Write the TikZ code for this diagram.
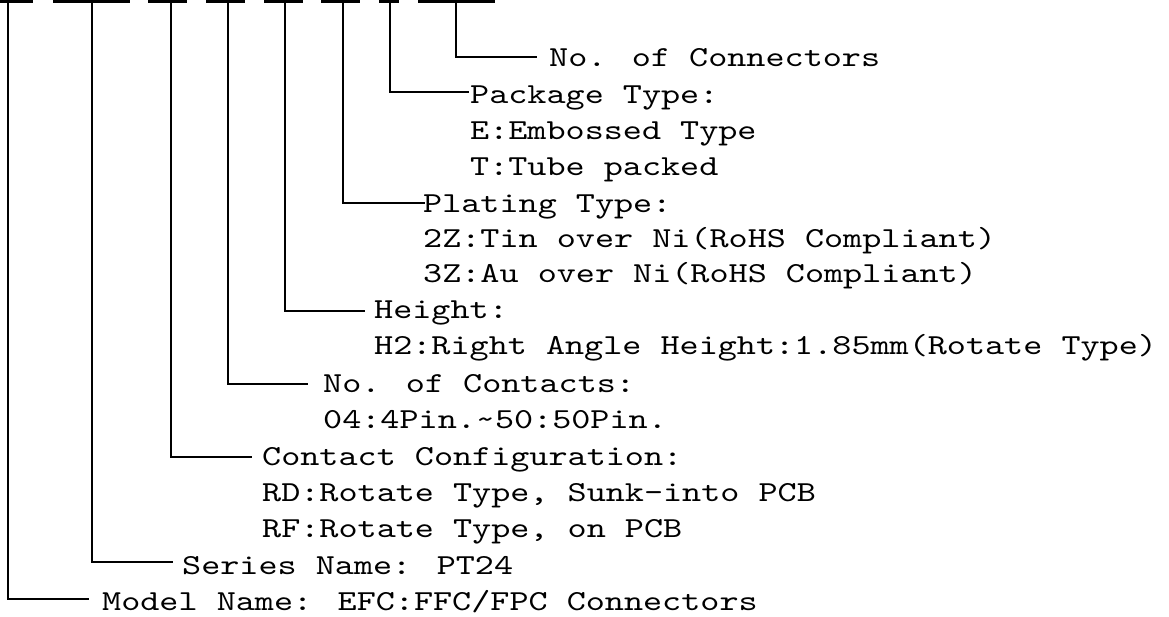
\documentclass[tikz,border=0pt]{standalone}
\usepackage{fontspec}
\newfontfamily\monofnt{lmmono10-regular}[Extension=.otf,FakeStretch=1.254]
\begin{document}
\begin{tikzpicture}[x=1pt,y=-1pt,
  lbl/.style={anchor=base west,inner sep=0pt,font=\monofnt\fontsize{29}{36}\selectfont},
  bar/.style={line width=3pt},
  lead/.style={line width=2pt}]
\useasboundingbox (0,0) rectangle (1169,616);
% top bars
\foreach \a/\b in {0/33,53/130,148/187,206/245,264/303,321/360,379/399,418/495}
  \draw[bar] (\a,1.5) -- (\b,1.5);
% top ends of leads
\coordinate (t1) at (8,0);
\coordinate (t2) at (92,0);
\coordinate (t3) at (171,0);
\coordinate (t4) at (228,0);
\coordinate (t5) at (285,0);
\coordinate (t6) at (343,0);
\coordinate (t7) at (390,0);
\coordinate (t8) at (456,0);
% labels
\node[lbl] (conn) at (549,66) {No. of Connectors};
\node[lbl] (pack) at (470,103) {Package Type:};
\node[lbl] (packE) at (470,139.3) {E:Embossed Type};
\node[lbl] (packT) at (470,175.6) {T:Tube packed};
\node[lbl] (plat) at (423,212) {Plating Type:};
\node[lbl] (plat2) at (423,247) {2Z:Tin over Ni(RoHS Compliant)};
\node[lbl] (plat3) at (423,282) {3Z:Au over Ni(RoHS Compliant)};
\node[lbl] (hgt) at (374,318) {Height:};
\node[lbl] (hgt2) at (374,354.5) {H2:Right Angle Height:1.85mm(Rotate Type)};
\node[lbl] (cont) at (323,392) {No. of Contacts:};
\node[lbl] (cont2) at (323,428.3) {04:4Pin.\char`\~50:50Pin.};
\node[lbl] (cfg) at (262,465) {Contact Configuration:};
\node[lbl] (cfgD) at (262,501) {RD:Rotate Type, Sunk-into PCB};
\node[lbl] (cfgF) at (262,537) {RF:Rotate Type, on PCB};
\node[lbl] (ser) at (182,574) {Series Name: PT24};
\node[lbl] (mod) at (102,610.5) {Model Name: EFC:FFC/FPC Connectors};
% lead ends
\coordinate (e8) at (537,57);
\coordinate (e7) at (469,92);
\coordinate (e6) at (425,203);
\coordinate (e5) at (365,311);
\coordinate (e4) at (308,384);
\coordinate (e3) at (252,457);
\coordinate (e2) at (173,562);
\coordinate (e1) at (89,599);
% leads
\draw[lead] (t8) |- (e8);
\draw[lead] (t7) |- (e7);
\draw[lead] (t6) |- (e6);
\draw[lead] (t5) |- (e5);
\draw[lead] (t4) |- (e4);
\draw[lead] (t3) |- (e3);
\draw[lead] (t2) |- (e2);
\draw[lead] (t1) |- (e1);
\end{tikzpicture}
\end{document}
